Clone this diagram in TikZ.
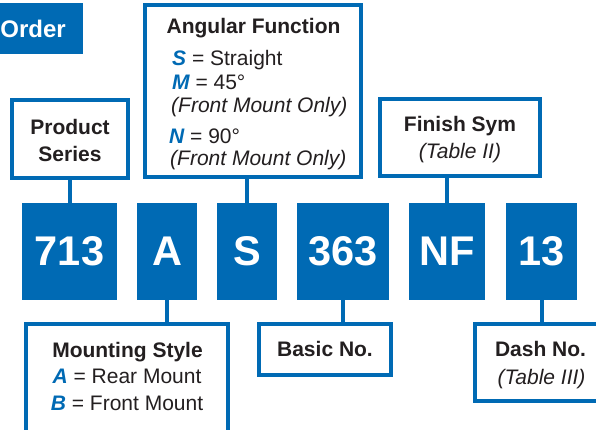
\documentclass[tikz,border=0pt]{standalone}
\usepackage{fontspec}
\setmainfont{Liberation Sans}
\definecolor{pblue}{RGB}{0,106,180}
\definecolor{txt}{RGB}{35,31,32}
\tikzset{
  outbox/.style={draw=pblue, line width=4pt, fill=white, inner sep=0pt, outer sep=0pt},
  bluebox/.style={fill=pblue, inner sep=0pt, outer sep=0pt, text=white,
    minimum height=97pt, font=\fontsize{41.5}{41.5}\selectfont\bfseries},
  conn/.style={draw=pblue, line width=4pt},
  ttl/.style={font=\fontsize{21}{24}\selectfont\bfseries, text=txt, anchor=base, inner sep=0pt},
  reg/.style={font=\fontsize{21}{24}\selectfont, text=txt, anchor=base, inner sep=0pt},
  itl/.style={font=\fontsize{21}{24}\selectfont\itshape, text=txt, anchor=base, inner sep=0pt},
}
\newcommand{\bl}[1]{\textcolor{pblue}{\bfseries\itshape #1}}
\begin{document}
\begin{tikzpicture}[x=1pt,y=-1pt]
\useasboundingbox (0,0) rectangle (596,429);
% order tab
\node[fill=pblue, minimum width=103pt, minimum height=51pt, inner sep=0pt, outer sep=0pt] (order) at (31.5,28.5) {};
\node[anchor=base east, inner sep=0pt, text=white, font=\fontsize{24}{24}\selectfont\bfseries] (ordertxt) at (66,37.5) {Order};
% blue code boxes
\node[bluebox, minimum width=95pt] (b713) at (69.5,251.5) {713};
\node[bluebox, minimum width=60pt] (bA) at (167,251.5) {A};
\node[bluebox, minimum width=60pt] (bS) at (247,251.5) {S};
\node[bluebox, minimum width=92pt] (b363) at (343,251.5) {363};
\node[bluebox, minimum width=76pt] (bNF) at (447,251.5) {NF};
\node[bluebox, minimum width=71pt] (b13) at (541.5,251.5) {13};
% outline boxes
\node[outbox, minimum width=116pt, minimum height=78pt] (product) at (70,139) {};
\node[outbox, minimum width=216pt, minimum height=172pt] (angular) at (253,91) {};
\node[outbox, minimum width=160pt, minimum height=77pt] (finish) at (460,137.5) {};
\node[outbox, minimum width=202pt, minimum height=114pt] (mounting) at (127,381) {};
\node[outbox, minimum width=132pt, minimum height=51pt] (basic) at (325,349.5) {};
\node[outbox, minimum width=133pt, minimum height=77pt] (dash) at (541.5,362.5) {};
% connectors
\draw[conn] (b713.north) -- (b713.north |- product.south);
\draw[conn] (bS.north) -- (bS.north |- angular.south);
\draw[conn] (bNF.north) -- (bNF.north |- finish.south);
\draw[conn] (bA.south) -- (bA.south |- mounting.north);
\draw[conn] (b363.south) -- (b363.south |- basic.north);
\draw[conn] (b13.south) -- (b13.south |- dash.north);
% texts
\node[ttl] (t1) at (70,134.5) {Product};
\node[ttl] (t2) at (70,161.5) {Series};
\node[ttl] (t3) at (253.5,33) {Angular Function};
\node[reg, anchor=base west] (t4) at (172,65) {\bl{S} = Straight};
\node[reg, anchor=base west] (t5) at (172,89) {\bl{M} = 45°};
\node[itl, anchor=base west] (t6) at (171,112) {(Front Mount Only)};
\node[reg, anchor=base west] (t7) at (169,143) {\bl{N} = 90°};
\node[itl, anchor=base west] (t8) at (170,165) {(Front Mount Only)};
\node[ttl] (t9) at (460,131) {Finish Sym};
\node[itl] (t10) at (460,158) {(Table II)};
\node[ttl] (t11) at (127.5,357) {Mounting Style};
\node[reg] (t12) at (127,383) {\bl{A} = Rear Mount};
\node[reg] (t13) at (127,410) {\bl{B} = Front Mount};
\node[ttl] (t14) at (325,356) {Basic No.};
\node[ttl] (t15) at (540.5,356) {Dash No.};
\node[itl] (t16) at (541.5,384) {(Table III)};
\end{tikzpicture}
\end{document}
